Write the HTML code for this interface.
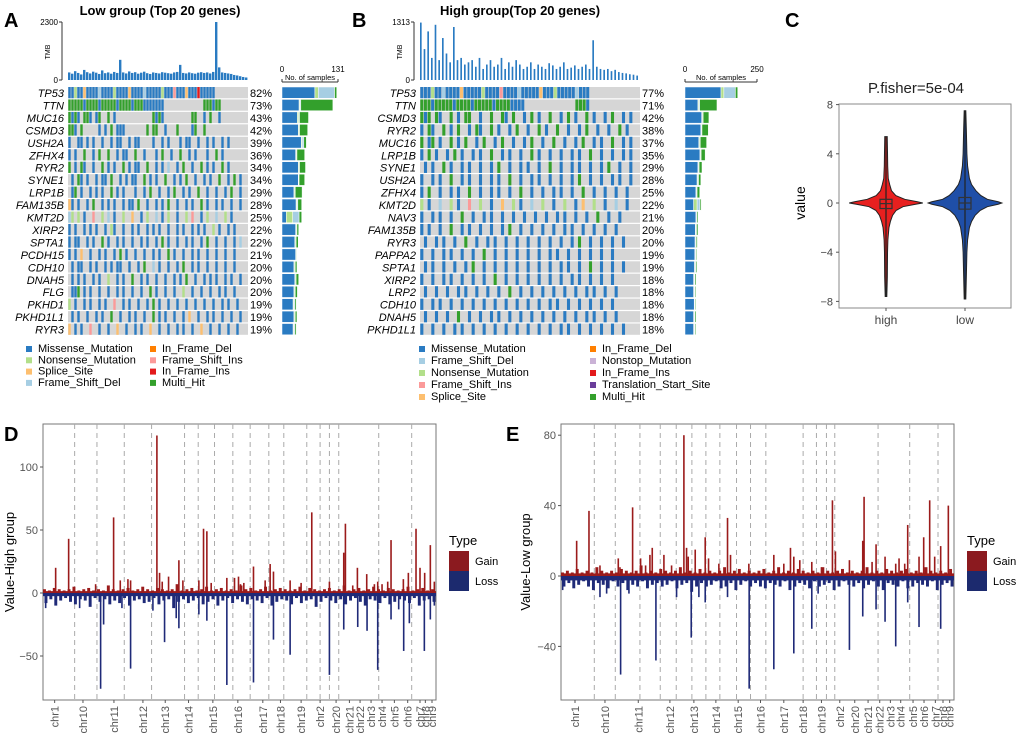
<!DOCTYPE html>
<html><head><meta charset="utf-8"><style>
html,body{margin:0;padding:0;background:#fff}
svg{display:block;font-family:"Liberation Sans",sans-serif}
</style></head><body>
<svg id="s" width="1020" height="737" viewBox="0 0 1020 737"></svg>
<script>
// ---------- Data ----------
const colors={m:"#2a7bc2",n:"#b2df8a",s:"#fdbf6f",d:"#a6cee3",i:"#ff7f00",f:"#fb9a99",x:"#e31a1c",h:"#33a02c",o:"#cab2d6",t:"#6a3d9a"};
const genesA=["TP53","TTN","MUC16","CSMD3","USH2A","ZFHX4","RYR2","SYNE1","LRP1B","FAM135B","KMT2D","XIRP2","SPTA1","PCDH15","CDH10","DNAH5","FLG","PKHD1","PKHD1L1","RYR3"];
const pctA=[82,73,43,42,39,36,34,34,29,28,25,22,22,21,20,20,20,19,19,19];
const matA=[
"mmnmmsmmmmdmmmmnmmmmsmmmmdmmmmmnmmmfmmmsmmmxmmmmm...........",
"hhhhhmhhhhmhhhhhmhhhhmhhhmmmmmmm.............hhhmhh.........",
"hmhm.hhm.mh..h.m............hmhm.........hh..m.h..m.........",
"hhm.h.....m.m.h.mmm.......h.hh..m...h....mh..h..............",
"m..mm.m.m..m..m.mm..m.mm....m..m.m...m.mm..m..m.m..m.m......",
"m.m..h..m.h..h..m.mm..h..m...m.h..m..h..m.m...m..h.m........",
"h.m.hm..m..h.m.m..h.m.mm..h..m.m.d..m.h..m..h.m.m..h.m......",
".m.hm.m..m.mm.h..m.m.mm..h.m.m..h..m.m.h..m..m.m..h..m.h.m..",
".mh.m..m.m.m..h.m.m...m..m.h..m..m.h..m.m..h..m..m..m.h..m..",
"sm.m..m.h..m.m.m..m.mm.h..m..m.m.h..m..m.m..h.m..m.m..m..m..",
"dn.n.m..f..n.d.m..n..s..m.n..d.m.n..m..n.f..m.n..d..n.m.....",
"m.m..m.m.m..m.nm..m..m.m..m.m.m..m..m.m..m.m.m..n.m..m.m....",
"m.mm..m.m..h.m..m.m..m..m.m..m.h.m..m..m.m..m.h..m..m..m.d..",
"m.m.s..m..m.m..m.h.m..m..m..m.m..h.m..m..m.m..m..m..m..m....",
".m.mm..m.m..m.m.mm..m..m.h..d.m..m..m.h..m.m..m..m..m..m....",
".m.m.m..m.m..n..m.m..h..m.m..m..m..m.m.h..m..m.m.m..m.m..m..",
".mmh.m.m..m..m..m.m..m..m..h.m..m..m..n..m..m..m..m.m..m....",
"n.m..m.m..m.m..f..m.m..m..m.h.m..m..m..m..m..m..m..m.m..m...",
".m.m..m..m.m..h..m..m.m..m..h.m.m..m..m.s..m..m.m..m..m..m..",
"s.m.m..f..m..m..s..m..m.m..s..m..m..m.m..m..s..m..m..m..m..."];
const tmbA=[300,250,350,280,220,400,310,260,330,290,240,380,270,300,250,320,280,800,300,260,340,280,310,250,290,330,270,240,300,280,260,310,290,270,250,300,320,600,280,260,300,270,250,290,310,280,300,260,320,2300,500,300,280,260,240,200,180,150,120,100];
const barMA=[77,40,36,38,45,32,38,38,28,33,10,32,30,32,28,30,28,26,28,26];
const barNA=[8,2,3,2,2,2,2,1,2,2,15,2,2,2,2,2,2,2,2,2];
const barOA=[38,2,2,1,4,1,1,1,1,2,15,1,1,1,1,1,1,2,1,2];
const barHA=[5,75,21,19,6,18,14,13,16,9,6,4,5,1,4,6,5,3,4,3];

const genesB=["TP53","TTN","CSMD3","RYR2","MUC16","LRP1B","SYNE1","USH2A","ZFHX4","KMT2D","NAV3","FAM135B","RYR3","PAPPA2","SPTA1","XIRP2","LRP2","CDH10","DNAH5","PKHD1L1"];
const pctB=[77,71,42,38,37,35,29,28,25,22,21,20,20,19,19,18,18,18,18,18];
const matB=[
"mmmnmmdmmmmsmmmmmnmmmmfmmmmdmmmmmsmmmnmmmmmdmmm..............",
"hhhmhhhhhmhhhhmhhhhhmhhhhmmmm..............hhhm..............",
"hmh.hm..h.m.hh..m..h..hm.h..m.h.m..h..m.h.m..h.m..m.h..m.m..",
"m.hm..h.m.h..m.hm..h.m..m.h..m..h.m..h..m..m.h..m..m..h.m...",
"h.mh.m..h.m.h..m.h..m.h..m..m.h..m..h..m..m.h..m.m..h..m.m..",
"m.h.m..m.h.m..m.m..h..m.m..m..h.m..m..m..m.m..h..m..m..m.m..",
".m.m..h.m..m.m..m..m.h..m..m.m..m..h..m..m.m..m..m.h..m..m..",
"m..m.m..h..m.m..m..m.m..h..m..m.m..m..m..m.h..m..m..m.m..m..",
"m.h..m..m.m..h..m..m.m..m..h..m..m..m.m..m..h..m..m..m..m...",
"n.m..d..n.m..f..n..m..s..n.m..d..n..m..n..m.s..n..m..d..m...",
"m..m.m..m..h..m..m.m..m..m..m..m..m..m.m..m..m..h..m..m.....",
"m.m..m..h..m.m..m..m..m.h..m..m..m..m..m.m..m..m..m..m......",
".m..m.m..m..h..m..m.m..m..m..m..m..m..m..m.h..m..m..m..m....",
"m..m..m.m..m..m..h..m..m..m..m..m..m.m..m..m..m..m..m.......",
".m.m..m..m..m.h..m..m..m..m..m..m..m..m.m..m..h..m..m..m....",
"m..m..m.m..m..m..m..h..m..m..m..m..m..m..m.m..m..m..m.......",
".m..m..m..m.m..m..m..m..h..m..m..m..m..m..m..m.m..m..m......",
"m..m.m..m..m..m..m..m..m..m..m..m..m.m..m..m..m..m..m.......",
".m..m..m..h..m..m..m.m..m..m..m..m..m..m..m..m.m..m..m......",
"m..m..m..m.m..m..m..m..m..m..m..m..m..m.m..m..m..m..m..m...."];
const tmbB=[1300,700,1100,500,1250,450,950,600,400,1200,450,500,350,400,450,300,500,250,350,450,300,350,500,250,400,300,450,350,250,300,400,250,350,300,250,380,330,250,300,400,250,280,330,250,300,350,250,900,300,250,230,250,200,230,180,160,150,130,120,100];
const barMB=[125,45,58,55,48,52,45,42,38,30,38,36,35,34,33,30,30,32,30,30];
const barNB=[10,3,3,2,3,2,2,3,2,12,2,2,2,2,2,2,2,2,2,2];
const barOB=[40,3,2,2,2,2,2,2,2,10,2,2,2,2,2,2,2,1,2,2];
const barHB=[8,60,20,22,22,14,10,8,9,4,4,5,4,3,4,4,3,3,4,3];

// violin
const vY=[-8,-6,-4,-3,-2,-1.5,-1,-0.6,-0.3,-0.1,0,0.1,0.3,0.6,1,1.5,2,3,4,6,8];
const vHigh=[0,0.015,0.02,0.03,0.06,0.1,0.16,0.26,0.45,0.8,1,0.85,0.5,0.25,0.13,0.08,0.04,0.025,0.02,0.012,0];
const vLow=[0,0.015,0.03,0.05,0.1,0.16,0.26,0.4,0.6,0.9,1,0.9,0.6,0.42,0.28,0.16,0.1,0.05,0.03,0.015,0];
const vRange={high:[-7.6,5.4],low:[-7.8,7.5]};
const vBox={high:[-0.45,0.3,-0.05],low:[-0.5,0.45,0]};

// CNV panels
const chromNames=["chr1","chr10","chr11","chr12","chr13","chr14","chr15","chr16","chr17","chr18","chr19","chr2","chr20","chr21","chr22","chr3","chr4","chr5","chr6","chr7","chr8","chr9"];
const dLabelPos=[35,120,213,300,367,437,510,585,660,713,775,832,880,920,952,985,1018,1055,1095,1132,1148,1168];
const dBounds=[95,162,244,326,425,466,515,570,622,678,723,792,832,860,888,1008,1107];
const dGainPos=[38,77,158,212,232,255,263,342,350,358,377,408,420,468,482,492,505,552,575,587,593,603,632,667,682,692,742,775,807,860,903,908,930,944,972,995,1005,1018,1035,1045,1082,1097,1120,1132,1146,1163,1175];
const dGainVal=[20,43,7,60,10,11,10,125,16,9,13,26,10,10,51,49,8,12,12,13,7,8,21,10,23,17,10,8,64,9,32,55,6,20,15,7,9,7,9,42,11,16,51,20,16,38,9];
const dLossPos=[8,110,173,182,237,263,330,365,400,408,468,492,552,632,692,742,860,903,945,973,1005,1045,1068,1083,1100,1145,1163,1175];
const dLossVal=[-12,-12,-76,-25,-12,-60,-14,-39,-20,-28,-17,-22,-73,-71,-37,-49,-65,-29,-27,-30,-61,-21,-13,-46,-24,-46,-21,-10];
const dGainBg=[3,2,4,3,2,3,5,2,3,4,2,3,2,6,3,2,3,4,2,3,5,3,2,4,3,2,3,7,2,3,4,2,3,5,2,3,4,2,3,2,6,3,4,2,3,5,2,3,4,3,2,3,5,2,4,3,2,3,4,2,3,6,2,3,4,2,3,5,3,2,4,3,2,3,5,2,3,4,2,3];
const dLossBg=[-8,-5,-10,-6,-4,-7,-9,-5,-6,-11,-4,-7,-5,-9,-6,-8,-4,-10,-6,-5,-8,-7,-4,-9,-6,-5,-12,-7,-5,-8,-6,-4,-9,-7,-5,-10,-6,-4,-8,-5,-7,-9,-5,-6,-8,-4,-10,-7,-5,-6,-9,-4,-8,-6,-5,-11,-7,-4,-6,-8,-5,-9,-6,-4,-7,-10,-5,-6,-8,-4,-9,-7,-5,-6,-8,-4,-10,-6,-5,-7];
const eLabelPos=[42,132,232,327,399,465,532,599,669,727,782,837,882,922,957,989,1020,1057,1090,1124,1147,1167];
const eBounds=[100,163,237,298,346,393,435,477,527,569,615,727,767,797,822,952,1047,1132];
const eGainPos=[47,84,117,172,177,215,239,254,267,274,309,332,369,377,382,403,433,443,474,500,509,564,639,669,689,699,717,753,782,815,824,866,906,910,934,946,973,1005,1015,1032,1041,1075,1089,1107,1122,1140,1163];
const eGainVal=[20,37,6,10,5,39,10,6,12,16,12,6,80,16,11,15,22,10,7,33,12,7,12,7,16,11,9,8,5,43,14,9,20,45,8,18,11,7,10,7,29,11,22,43,11,17,40];
const eLossPos=[5,117,137,179,204,285,347,391,414,433,500,565,639,699,753,772,866,906,946,973,1005,1041,1075,1140];
const eLossVal=[-8,-12,-10,-56,-10,-48,-12,-35,-12,-15,-12,-64,-53,-44,-30,-10,-42,-23,-19,-26,-40,-15,-29,-30];
const eGainBg=[2,3,2,4,2,3,2,5,3,2,3,2,4,3,2,3,6,2,3,2,4,3,2,3,5,2,3,2,4,2,3,2,3,5,2,3,4,2,3,2,3,4,2,3,5,2,3,2,4,3,2,3,2,5,3,2,3,4,2,3,2,3,5,2,3,2,4,3,2,3,4,2,3,2,5,3,2,3,2,4];
const eLossBg=[-6,-4,-7,-5,-3,-6,-8,-4,-5,-7,-3,-6,-4,-8,-5,-6,-3,-7,-5,-4,-6,-5,-3,-7,-5,-4,-9,-6,-4,-6,-5,-3,-7,-6,-4,-8,-5,-3,-6,-4,-6,-7,-4,-5,-6,-3,-8,-6,-4,-5,-7,-3,-6,-5,-4,-8,-6,-3,-5,-6,-4,-7,-5,-3,-6,-8,-4,-5,-6,-3,-7,-6,-4,-5,-6,-3,-8,-5,-4,-6];

// ---------- Helpers ----------
const S=document.getElementById('s');const NS="http://www.w3.org/2000/svg";
function E(tag,at,parent){const e=document.createElementNS(NS,tag);for(const k in at)e.setAttribute(k,at[k]);(parent||S).appendChild(e);return e;}
function T(x,y,str,at,parent){const e=E('text',Object.assign({x:x,y:y},at||{}),parent);e.textContent=str;return e;}
function G(name){const g=E('g',{});return g;}

[["A",4,27],["B",352,27],["C",785,27],["D",4,441],["E",506,441]].forEach(p=>{const t=T(p[1],p[2],p[0],{"font-size":20,"font-weight":"bold"});});

// ---------- Oncoplot ----------
function onco(cfg){
  const g=G(cfg.name);
  const t=T(cfg.titleX,15,cfg.title,{"font-size":13,"font-weight":"bold","text-anchor":"middle"},g);
  
  const x0=cfg.x0,x1=cfg.x1,y0=87,rh=12.45;
  const N=cfg.tmb.length,tw=(x1-x0)/N;
  const tg=E('g',{},g);
  const ty=v=>80-v/cfg.tmbMax*58;
  E('line',{x1:x0-6,y1:22,x2:x0-6,y2:80,stroke:"#333","stroke-width":1},tg);
  E('line',{x1:x0-9,y1:22,x2:x0-6,y2:22,stroke:"#333"},tg);E('line',{x1:x0-9,y1:80,x2:x0-6,y2:80,stroke:"#333"},tg);
  T(x0-10,25,String(cfg.tmbMax),{"font-size":8,"text-anchor":"end"},tg);T(x0-10,83,"0",{"font-size":8,"text-anchor":"end"},tg);
  T(x0-18,52,"TMB",{"font-size":7,"text-anchor":"middle",transform:`rotate(-90 ${x0-18} 52)`},tg);
  cfg.tmb.forEach((v,i)=>{const r=E('rect',{x:x0+i*tw,y:ty(v),width:tw*cfg.tmbW,height:80-ty(v),fill:"#2a7bc2"},tg);});
  cfg.genes.forEach((gn,r)=>{
    const y=y0+r*rh;
    const lab=T(x0-4,y+10,gn,{"font-size":11,"font-style":"italic","text-anchor":"end"},g);
    const bg=E('rect',{x:x0,y:y,width:x1-x0,height:rh-1.2,fill:"#d6d6d6"},g);
    const s=cfg.mat[r],cw=(x1-x0)/s.length;
    for(let c=0;c<s.length;c++){const ch=s[c];if(ch==='.')continue;
      const cell=E('rect',{x:x0+c*cw+0.3,y:y,width:cw-0.6,height:rh-1.2,fill:colors[ch]},g);
      }
    const p=T(x1+2,y+10,cfg.pct[r]+"%",{"font-size":11},g);
    const bx=v=>cfg.bx0+v/cfg.barMax*cfg.bw;let acc=0;
    [[cfg.bm[r],colors.m],[cfg.bn[r],colors.n],[cfg.bo[r],colors.d],[cfg.bh[r],colors.h]].forEach(seg=>{
      const rr=E('rect',{x:bx(acc),y:y,width:bx(acc+seg[0])-bx(acc),height:rh-1.2,fill:seg[1],stroke:"#fff","stroke-width":0.5},g);
      acc+=seg[0];});
  });
  E('line',{x1:cfg.bx0,y1:82,x2:cfg.bx0+cfg.bw,y2:82,stroke:"#333"},g);
  E('line',{x1:cfg.bx0,y1:79,x2:cfg.bx0,y2:82,stroke:"#333"},g);E('line',{x1:cfg.bx0+cfg.bw,y1:79,x2:cfg.bx0+cfg.bw,y2:82,stroke:"#333"},g);
  T(cfg.bx0,72,"0",{"font-size":8,"text-anchor":"middle"},g);T(cfg.bx0+cfg.bw,72,String(cfg.barMax),{"font-size":8,"text-anchor":"middle"},g);
  T(cfg.bx0+cfg.bw/2,80,"No. of samples",{"font-size":7.5,"text-anchor":"middle"},g);
  cfg.legend.forEach((L,i)=>{const col=Math.floor(i/cfg.legRows),row=i%cfg.legRows;
    const lx=cfg.legX[col],ly=352+row*cfg.legDy;
    const le=E('g',{},g);
    E('rect',{x:lx,y:ly-6,width:6,height:6,fill:colors[L[1]]},le);T(lx+12,ly,L[0],{"font-size":11},le);});
}
onco({name:"oncoplot-low-group",title:"Low group (Top 20 genes)",titleX:160,x0:68,x1:248,genes:genesA,pct:pctA,mat:matA,tmb:tmbA,tmbMax:2300,tmbW:0.8,
  bm:barMA,bn:barNA,bo:barOA,bh:barHA,bx0:282,bw:56,barMax:131,legX:[26,150],legRows:4,legDy:11.3,
  legend:[["Missense_Mutation","m"],["Nonsense_Mutation","n"],["Splice_Site","s"],["Frame_Shift_Del","d"],["In_Frame_Del","i"],["Frame_Shift_Ins","f"],["In_Frame_Ins","x"],["Multi_Hit","h"]]});
onco({name:"oncoplot-high-group",title:"High group(Top 20 genes)",titleX:520,x0:420,x1:640,genes:genesB,pct:pctB,mat:matB,tmb:tmbB,tmbMax:1313,tmbW:0.45,
  bm:barMB,bn:barNB,bo:barOB,bh:barHB,bx0:685,bw:72,barMax:250,legX:[419,590],legRows:5,legDy:12,
  legend:[["Missense_Mutation","m"],["Frame_Shift_Del","d"],["Nonsense_Mutation","n"],["Frame_Shift_Ins","f"],["Splice_Site","s"],["In_Frame_Del","i"],["Nonstop_Mutation","o"],["In_Frame_Ins","x"],["Translation_Start_Site","t"],["Multi_Hit","h"]]});

// ---------- Violin ----------
(function(){
  const g=G("violin-plot");
  const px0=839,px1=1011,py0=104,py1=308;
  const y=v=>203-v*12.3;const hw=36;
  T(916,93,"P.fisher=5e-04",{"font-size":15,"text-anchor":"middle",fill:"#222"},g);
  E('rect',{x:px0,y:py0,width:px1-px0,height:py1-py0,fill:"none",stroke:"#888"},g);
  [8,4,0,-4,-8].forEach(v=>{E('line',{x1:px0-3,y1:y(v),x2:px0,y2:y(v),stroke:"#555"},g);T(px0-6,y(v)+4,(v<0?"\u2212"+(-v):String(v)),{"font-size":11,"text-anchor":"end",fill:"#444"},g);});
  T(805,203,"value",{"font-size":14,"text-anchor":"middle",transform:"rotate(-90 805 203)"},g);
  [["high",886,vHigh,"#e8201f"],["low",965,vLow,"#1f4fa8"]].forEach(d=>{
    const cx=d[1],w=d[2],rg=vRange[d[0]];
    let pts=[];for(let i=0;i<vY.length;i++){const v=Math.max(rg[0],Math.min(rg[1],vY[i]));pts.push([cx+w[i]*hw+0.8,y(v)]);}
    let back=pts.map(p=>[2*cx-p[0],p[1]]).reverse();
    const pa=E('polygon',{points:pts.concat(back).map(p=>p.join(',')).join(' '),fill:d[3],stroke:"#222","stroke-width":1},g);
    
    E('line',{x1:cx,y1:y(rg[0]),x2:cx,y2:y(rg[1]),stroke:"#222","stroke-width":1.2},g);
    const b=vBox[d[0]];E('rect',{x:cx-6,y:y(b[1]),width:12,height:y(b[0])-y(b[1]),fill:"none",stroke:"#333","stroke-width":1.2},g);
    E('line',{x1:cx-6,y1:y(b[2]),x2:cx+6,y2:y(b[2]),stroke:"#333","stroke-width":1.2},g);
    E('line',{x1:cx,y1:py1,x2:cx,y2:py1+3,stroke:"#555"},g);
    T(cx,324,d[0],{"font-size":12,"text-anchor":"middle",fill:"#444"},g);
  });
})();

// ---------- CNV panels ----------
function cnv(c){
  const g=G(c.name);
  const X=v=>c.x0+v/1180*(c.x1-c.x0);const Y=v=>c.zero-v*c.k;
  E('rect',{x:c.x0,y:424,width:c.x1-c.x0,height:276,fill:"#fff",stroke:"#777","stroke-width":1},g);
  c.bounds.forEach(b=>{const l=E('line',{x1:X(b),y1:424,x2:X(b),y2:700,stroke:"#aaa","stroke-dasharray":"5,4","stroke-width":1},g);});
  const bw=(c.x1-c.x0)/c.gbg.length;
  E('rect',{x:c.x0,y:Y(1.5),width:c.x1-c.x0,height:Y(0)-Y(1.5),fill:"#9b1b1b"},g);
  E('rect',{x:c.x0,y:Y(0),width:c.x1-c.x0,height:Y(-2.5)-Y(0),fill:"#1f2a78"},g);
  c.gbg.forEach((v,i)=>{E('rect',{x:c.x0+i*bw,y:Y(v),width:bw*0.6,height:Y(0)-Y(v),fill:"#9b1b1b"},g);});
  c.lbg.forEach((v,i)=>{E('rect',{x:c.x0+i*bw+bw*0.3,y:Y(0),width:bw*0.6,height:Y(v)-Y(0),fill:"#1f2a78"},g);});
  c.gp.forEach((p,i)=>{const r=E('rect',{x:X(p)-0.8,y:Y(c.gv[i]),width:1.6,height:Y(0)-Y(c.gv[i]),fill:"#9b1b1b"},g);});
  c.lp.forEach((p,i)=>{const r=E('rect',{x:X(p)-0.8,y:Y(0),width:1.6,height:Y(c.lv[i])-Y(0),fill:"#1f2a78"},g);});
  c.ticks.forEach(v=>{E('line',{x1:c.x0-3,y1:Y(v),x2:c.x0,y2:Y(v),stroke:"#555"},g);T(c.x0-5,Y(v)+4,v<0?"\u2212"+(-v):String(v),{"font-size":11,"text-anchor":"end",fill:"#555"},g);});
  T(c.yl,562,c.ytitle,{"font-size":13,"text-anchor":"middle",transform:`rotate(-90 ${c.yl} 562)`},g);
  chromNames.forEach((n,i)=>{const x=X(c.lab[i]);E('line',{x1:x,y1:700,x2:x,y2:703,stroke:"#555"},g);
    const t=T(x+4,706,n,{"font-size":11,fill:"#555","text-anchor":"end",transform:`rotate(-90 ${x+4} 706)`},g);});
  const lg=E('g',{},g);
  T(c.lx,545,"Type",{"font-size":13},lg);
  E('rect',{x:c.lx,y:551,width:20,height:20,fill:"#8b1a1f"},lg);E('rect',{x:c.lx,y:571,width:20,height:20,fill:"#1c2a6e"},lg);
  T(c.lx+26,565,"Gain",{"font-size":11},lg);T(c.lx+26,585,"Loss",{"font-size":11},lg);
}
cnv({name:"cnv-high-group",x0:43,x1:436,zero:593,k:1.26,ticks:[100,50,0,-50],ytitle:"Value-High group",yl:14,lx:449,
  bounds:dBounds,lab:dLabelPos,gp:dGainPos,gv:dGainVal,lp:dLossPos,lv:dLossVal,gbg:dGainBg,lbg:dLossBg});
cnv({name:"cnv-low-group",x0:561,x1:954,zero:576,k:1.76,ticks:[80,40,0,-40],ytitle:"Value-Low group",yl:530,lx:967,
  bounds:eBounds,lab:eLabelPos,gp:eGainPos,gv:eGainVal,lp:eLossPos,lv:eLossVal,gbg:eGainBg,lbg:eLossBg});
</script>
</body></html>
